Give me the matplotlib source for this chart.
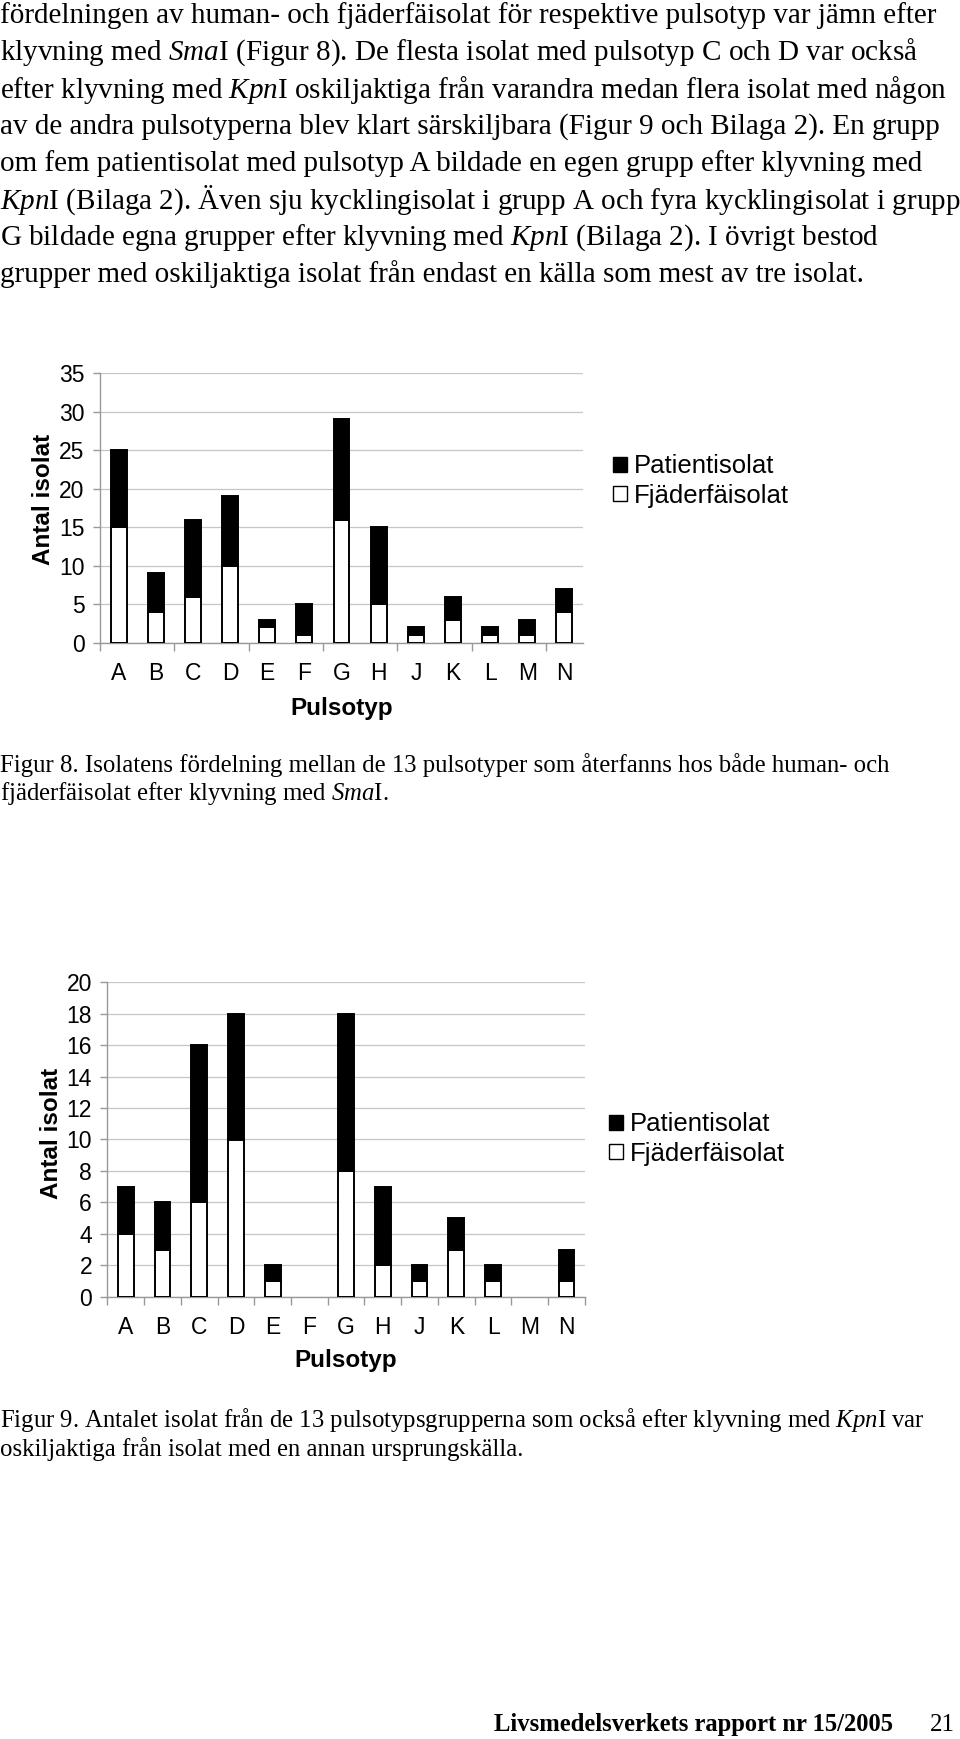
import numpy as np
import matplotlib
matplotlib.use("Agg")
import matplotlib.pyplot as plt
from matplotlib.patches import Patch

pulsotyper = ["A", "B", "C", "D", "E", "F", "G", "H", "J", "K", "L", "M", "N"]

# Figur 8 - klyvning med SmaI
fig8_fjader = [15, 4, 6, 10, 2, 1, 16, 5, 1, 3, 1, 1, 4]
fig8_patient = [10, 5, 10, 9, 1, 4, 13, 10, 1, 3, 1, 2, 3]

# Figur 9 - oskiljaktiga aven efter klyvning med KpnI
fig9_fjader = [4, 3, 6, 10, 1, 0, 8, 2, 1, 3, 1, 0, 1]
fig9_patient = [3, 3, 10, 8, 1, 0, 10, 5, 1, 2, 1, 0, 2]

legend_labels = ["Patientisolat", "Fjäderfäisolat"]

body_lines = [
    "fördelningen av human- och fjäderfäisolat för respektive pulsotyp var jämn efter",
    r"klyvning med $\mathit{Sma}$I (Figur 8). De flesta isolat med pulsotyp C och D var också",
    r"efter klyvning med $\mathit{Kpn}$I oskiljaktiga från varandra medan flera isolat med någon",
    "av de andra pulsotyperna blev klart särskiljbara (Figur 9 och Bilaga 2). En grupp",
    "om fem patientisolat med pulsotyp A bildade en egen grupp efter klyvning med",
    r"$\mathit{Kpn}$I (Bilaga 2). Även sju kycklingisolat i grupp A och fyra kycklingisolat i grupp",
    r"G bildade egna grupper efter klyvning med $\mathit{Kpn}$I (Bilaga 2). I övrigt bestod",
    "grupper med oskiljaktiga isolat från endast en källa som mest av tre isolat.",
]
caption8 = [
    "Figur 8. Isolatens fördelning mellan de 13 pulsotyper som återfanns hos både human- och",
    r"fjäderfäisolat efter klyvning med $\mathit{Sma}$I.",
]
caption9 = [
    r"Figur 9. Antalet isolat från de 13 pulsotypsgrupperna som också efter klyvning med $\mathit{Kpn}$I var",
    "oskiljaktiga från isolat med en annan ursprungskälla.",
]

plt.rcParams["mathtext.fontset"] = "custom"
plt.rcParams["mathtext.rm"] = "Liberation Serif"
plt.rcParams["mathtext.it"] = "Liberation Serif:italic"

W, H = 960, 1739
fig = plt.figure(figsize=(W / 100, H / 100), dpi=100)


def fx(x):
    return x / W


def fy(y):
    return 1 - y / H


def draw_chart(left, top, right, bottom, ymax, ystep, fjader, patient, tick_every,
               ylab_x, ylab_y, xlab_y, leg_x, leg_y):
    ax = fig.add_axes([fx(left), fy(bottom), (right - left) / W, (bottom - top) / H])
    x = np.arange(len(pulsotyper))
    fjader = np.array(fjader)
    patient = np.array(patient)
    edge_f = np.where(fjader > 0, "black", "none")
    edge_p = np.where(patient > 0, "black", "none")
    ax.bar(x, fjader, width=0.43, color="white", edgecolor=edge_f, linewidth=1.4, zorder=3)
    ax.bar(x, patient, width=0.43, bottom=fjader, color="black", edgecolor=edge_p,
           linewidth=1.4, zorder=3)

    ax.set_xlim(-0.5, len(pulsotyper) - 0.5)
    ax.set_ylim(0, ymax)
    ax.set_yticks(np.arange(0, ymax + 1, ystep))
    ax.set_xticks(x)
    ax.set_xticklabels(pulsotyper)
    ax.set_xticks(np.arange(-0.5, len(pulsotyper) + 0.1 - tick_every + 1, tick_every), minor=True)

    ax.set_axisbelow(True)
    ax.yaxis.grid(True, color="#c6c6c6", linewidth=0.9)
    for s in ["top", "right"]:
        ax.spines[s].set_visible(False)
    for s in ["left", "bottom"]:
        ax.spines[s].set_color("#999999")
        ax.spines[s].set_linewidth(1)

    ax.tick_params(axis="x", which="major", length=0, pad=14, labelsize=16.5)
    ax.tick_params(axis="x", which="minor", length=6, color="#999999", width=1)
    ax.tick_params(axis="y", length=5, color="#999999", width=1, pad=6, labelsize=16.5)

    fig.text(fx(ylab_x), fy(ylab_y), "Antal isolat", rotation=90,
             ha="center", va="center", fontsize=17.5, fontweight="bold")
    fig.text(fx((left + right) / 2), fy(xlab_y), "Pulsotyp",
             ha="center", va="center", fontsize=17.5, fontweight="bold")

    handles = [Patch(facecolor="black", edgecolor="black"),
               Patch(facecolor="white", edgecolor="black")]
    ax.legend(handles, legend_labels, loc="center left",
              bbox_to_anchor=(fx(leg_x), fy(leg_y)), bbox_transform=fig.transFigure,
              frameon=False, fontsize=18.5, handlelength=0.55, handleheight=0.55,
              handletextpad=0.25, labelspacing=0.2, borderpad=0, borderaxespad=0)
    return ax


plt.rcParams["font.family"] = ["Liberation Sans", "DejaVu Sans"]

draw_chart(100, 373.3, 583, 642.7, 35, 5, fig8_fjader, fig8_patient, 2,
           ylab_x=43, ylab_y=499, xlab_y=708, leg_x=613, leg_y=481)
draw_chart(107.3, 982.3, 584.9, 1296.7, 20, 2, fig9_fjader, fig9_patient, 1,
           ylab_x=51, ylab_y=1133, xlab_y=1361, leg_x=609, leg_y=1139)

serif = ["Liberation Serif", "DejaVu Serif"]

body_y0 = 15.5
body_step = 37.0
for i, line in enumerate(body_lines):
    fig.text(0, fy(body_y0 + i * body_step), line, ha="left", va="center",
             fontsize=21, family=serif)

for i, line in enumerate(caption8):
    fig.text(0, fy(765.5 + i * 28.0), line, ha="left", va="center",
             fontsize=17.8, family=serif)

for i, line in enumerate(caption9):
    fig.text(0, fy(1420 + i * 28.8), line, ha="left", va="center",
             fontsize=17.8, family=serif)

fig.text(fx(893), fy(1725), "Livsmedelsverkets rapport nr 15/2005", ha="right",
         va="center", fontsize=17.7, fontweight="bold", family=serif)
fig.text(fx(955), fy(1725), "21", ha="right", va="center", fontsize=18, family=serif)

fig.savefig("out.png", dpi=100)
